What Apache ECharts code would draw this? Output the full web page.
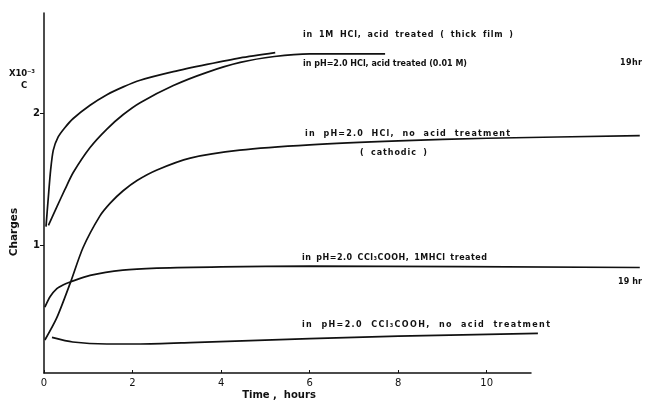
<!DOCTYPE html>
<html><head><meta charset="utf-8">
<script src="https://cdn.jsdelivr.net/npm/echarts@6/dist/echarts.min.js"></script>
<style>html,body{margin:0;padding:0;background:#fff}#c{width:652px;height:409px}</style>
</head><body><div id="c"></div>
<script>
// Axis ticks
const xTicks = [0, 2, 4, 6, 8, 10];
const yTicks = [1, 2];

// in 1M HCl, acid treated (thick film)
const thickX = [0.045, 0.097, 0.15, 0.21, 0.32, 0.47, 0.66, 1.04, 1.42, 1.79, 2.17, 2.92, 3.68, 4.43, 5.22];
const thickY = [1.14, 1.36, 1.57, 1.72, 1.82, 1.89, 1.96, 2.06, 2.14, 2.20, 2.25, 2.315, 2.37, 2.42, 2.46];

// in pH=2.0 HCl, acid treated (0.01M)
const acidX = [0.1, 0.29, 0.47, 0.66, 1.04, 1.42, 1.79, 2.17, 2.92, 3.68, 4.43, 5.2, 6.0, 7.7];
const acidY = [1.15, 1.29, 1.42, 1.55, 1.74, 1.88, 1.99, 2.08, 2.21, 2.31, 2.385, 2.43, 2.45, 2.45];

// in pH=2.0 HCl, no acid treatment (cathodic)
const cathX = [0.02, 0.29, 0.59, 0.88, 1.26, 1.5, 1.78, 2.1, 2.55, 3.3, 4.42, 6, 8, 10, 13.45];
const cathY = [0.28, 0.45, 0.71, 0.98, 1.22, 1.32, 1.41, 1.49, 1.57, 1.66, 1.72, 1.76, 1.79, 1.81, 1.83];

// in pH=2.0 CCl3COOH, 1MHCl treated
const cclTrX = [0.02, 0.14, 0.29, 0.44, 0.59, 1.04, 1.78, 2.55, 4, 6, 13.45];
const cclTrY = [0.53, 0.61, 0.67, 0.70, 0.72, 0.77, 0.81, 0.825, 0.835, 0.84, 0.83];

// in pH=2.0 CCl3COOH, no acid treatment
const cclNoX = [0.18, 0.65, 1.42, 2.17, 3.3, 6, 8, 11.15];
const cclNoY = [0.30, 0.265, 0.25, 0.25, 0.26, 0.29, 0.31, 0.33];

const zip = (xs, ys) => xs.map((x, i) => [x, ys[i]]);
const ink = '#111';
const face = 'DejaVu Sans';
const noteFont = 'bold 8px ' + face;

function curve(name, xs, ys) {
  return {
    name, type: 'line', xAxisIndex: 0, yAxisIndex: 0,
    data: zip(xs, ys), showSymbol: false, symbol: 'none',
    smooth: 0.25,
    lineStyle: { color: ink, width: 1.7 }, silent: true
  };
}

// a note spread (letter-spaced) over the span it covers in the reference
function note(x, y, s, width, font) {
  font = font || noteFont;
  const chars = Array.from(s);
  const ws = chars.map(c => echarts.format.getTextRect(c, font).width);
  const total = ws.reduce((a, b) => a + b, 0);
  const weights = chars.slice(0, -1).map((c, i) => (c === ' ' || chars[i + 1] === ' ') ? 2.5 : 1);
  const wsum = weights.reduce((a, b) => a + b, 0) || 1;
  const unit = Math.max(-0.15, (width - total) / wsum);
  let cx = 0;
  const children = [];
  chars.forEach((c, i) => {
    if (c !== ' ') {
      children.push({ type: 'text', x: cx, y: 0,
        style: { text: c, fill: ink, font, verticalAlign: 'middle', align: 'left' } });
    }
    cx += ws[i] + (i < weights.length ? weights[i] * unit : 0);
  });
  return { type: 'group', x, y, children };
}

function label(x, y, s, size, rotation) {
  return { type: 'text', x, y, rotation: rotation || 0,
    style: { text: s, fill: ink, font: 'bold ' + size + 'px ' + face, verticalAlign: 'middle', align: 'center' } };
}

const chart = echarts.init(document.getElementById('c'), null, { renderer: 'canvas' });
chart.setOption({
  animation: false,
  backgroundColor: '#fff',
  grid: [
    { left: 44, right: 10, top: 13, bottom: 36 },
    { left: 44, width: 487, top: 13, bottom: 36 }
  ],
  xAxis: [
    { gridIndex: 0, type: 'value', min: 0, max: 13.5, show: false },
    { gridIndex: 1, type: 'value', min: 0, max: 11, interval: 2,
      axisLine: { lineStyle: { color: ink, width: 1.5 } },
      axisTick: { inside: true, length: 3, customValues: xTicks, lineStyle: { color: ink } },
      axisLabel: { customValues: xTicks, color: ink, fontSize: 10, fontFamily: face, margin: 5 },
      splitLine: { show: false } }
  ],
  yAxis: [
    { gridIndex: 0, type: 'value', min: 0.03, max: 2.76, show: false },
    { gridIndex: 1, type: 'value', min: 0.03, max: 2.76,
      axisLine: { show: true, lineStyle: { color: ink, width: 1.5 } },
      axisTick: { show: true, length: 4, customValues: yTicks, lineStyle: { color: ink } },
      axisLabel: { customValues: yTicks, color: ink, fontSize: 10, fontWeight: 'bold', fontFamily: face, margin: 4 },
      splitLine: { show: false } }
  ],
  series: [
    curve('thick', thickX, thickY),
    curve('acid', acidX, acidY),
    curve('cathodic', cathX, cathY),
    curve('cclTreated', cclTrX, cclTrY),
    curve('cclNone', cclNoX, cclNoY)
  ],
  graphic: [
    note(303, 35, 'in 1M HCl, acid treated ( thick film )', 210),
    note(303, 64, 'in pH=2.0 HCl, acid treated (0.01 M)', 164),
    note(620, 63, '19hr', 22),
    note(305, 134, 'in pH=2.0 HCl, no acid treatment', 205),
    note(360, 153, '( cathodic )', 67),
    note(302, 258, 'in pH=2.0 CCl₃COOH, 1MHCl treated', 185),
    note(618, 282, '19 hr', 24),
    note(302, 325, 'in pH=2.0 CCl₃COOH, no acid treatment', 248),
    note(9, 74, 'X10⁻³', 24, 'bold 8.5px ' + face),
    note(21, 86, 'C', 6, 'bold 8.5px ' + face),
    label(14, 232, 'Charges', 10.5, Math.PI / 2),
    label(279, 395, 'Time ,  hours', 10)
  ]
});
</script>
</body></html>
